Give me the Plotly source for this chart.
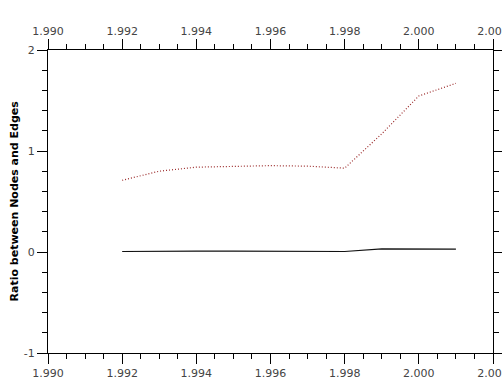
import plotly.graph_objects as go

years = [1992, 1993, 1994, 1995, 1996, 1997, 1998, 1999, 2000, 2001]
ratio_dotted = [0.71, 0.80, 0.84, 0.85, 0.855, 0.85, 0.83, 1.17, 1.545, 1.67]
ratio_solid = [0.005, 0.01, 0.008, 0.008, 0.008, 0.008, 0.005, 0.03, 0.03, 0.028]

x_tickvals = [1990, 1992, 1994, 1996, 1998, 2000, 2002]
x_ticktext = ["1.990", "1.992", "1.994", "1.996", "1.998", "2.000", "2.002"]
y_tickvals = [-1, 0, 1, 2]
y_ticktext = ["-1", "0", "1", "2"]

font = "DejaVu Sans"
tickfont = dict(family=font, size=11, color="#444")
titlefont = dict(family=font, size=11, color="black")

fig = go.Figure()
fig.add_trace(go.Scatter(x=years, y=ratio_dotted, mode="lines",
                         line=dict(color="#9b2a2a", width=1.2, dash="1px,2px"),
                         showlegend=False))
fig.add_trace(go.Scatter(x=years, y=ratio_solid, mode="lines",
                         line=dict(color="#111", width=1.2),
                         showlegend=False))
# invisible trace for top axis
fig.add_trace(go.Scatter(x=[1990, 2002], y=[None, None], xaxis="x2",
                         mode="lines", showlegend=False, hoverinfo="skip"))

axis_common = dict(showgrid=False, zeroline=False, showline=True,
                   linecolor="black", linewidth=1, ticks="outside",
                   ticklen=10, tickcolor="black", tickwidth=1, automargin=False)

fig.update_layout(
    width=502, height=382,
    margin=dict(l=48, r=9, t=50, b=29),
    plot_bgcolor="white", paper_bgcolor="white",
    xaxis=dict(range=[1990, 2002], tickvals=x_tickvals, ticktext=x_ticktext,
               tickfont=tickfont, ticklabeloverflow="allow",
               minor=dict(dtick=0.5, tick0=1990, ticklen=5, tickcolor="black", ticks="outside"),
               **axis_common),
    xaxis2=dict(range=[1990, 2002], overlaying="x", side="top", anchor="y",
                tickvals=x_tickvals, ticktext=x_ticktext, tickfont=tickfont,
                ticklabeloverflow="allow",
                minor=dict(dtick=0.5, tick0=1990, ticklen=5, tickcolor="black", ticks="outside"),
                **axis_common),
    yaxis=dict(range=[-1, 2], tickvals=y_tickvals, ticktext=y_ticktext,
               tickfont=tickfont, mirror="ticks",
               minor=dict(dtick=0.2, tick0=-1, ticklen=5, tickcolor="black", ticks="outside"),
               **axis_common),
    annotations=[
        dict(text="<b>X Axis Title</b>", xref="paper", yref="paper",
             x=0.49, y=-25 / 303, xanchor="center", yanchor="top",
             showarrow=False, font=titlefont),
        dict(text="<b>Ratio between Nodes and Edges</b>", xref="paper", yref="paper",
             x=-34 / 445, y=0.5, xanchor="center", yanchor="middle", textangle=-90,
             showarrow=False, font=titlefont),
    ],
)

fig.write_html("out.html", config={"displayModeBar": False},
               post_script="document.body.style.margin='0';document.body.style.overflow='hidden';")
